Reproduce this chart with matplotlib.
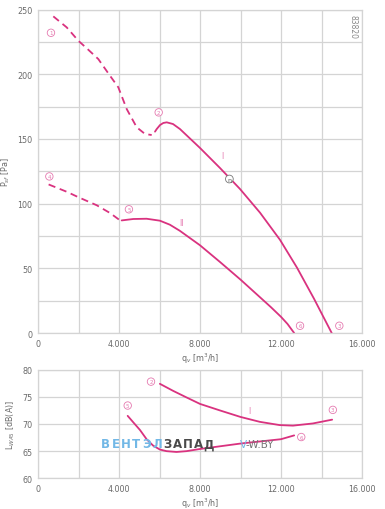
import numpy as np
import matplotlib
matplotlib.use('Agg')
import matplotlib.pyplot as plt

# --- data ---
# curve I, pressure
q_I_dash = [756, 1417, 1990, 2484, 2978, 3556, 3965, 4380, 4874, 5284, 5615]
p_I_dash = [244.7, 236.2, 225.9, 218.9, 211.7, 198.8, 189.9, 173.1, 159.0, 153.8, 153.0]
q_I = [5778, 5862, 6025, 6188, 6356, 6667, 7012, 8000, 8988, 9975, 10963, 11951, 12790, 13630, 14504]
p_I = [155.6, 157.6, 160.7, 162.3, 162.8, 161.5, 157.6, 143.0, 127.5, 111.3, 93.0, 72.0, 50.5, 26.5, 0]

# curve II, pressure
q_II_dash = [525, 1427, 2001, 2903, 3559, 4002]
p_II_dash = [114.8, 109.1, 104.9, 98.7, 92.7, 87.6]
q_II = [4133, 4707, 5363, 6019, 6511, 7003, 8000, 8986, 10005, 11007, 11500, 12000, 12321, 12650]
p_II = [87.0, 88.1, 88.3, 86.8, 83.7, 79.0, 67.8, 54.9, 41.2, 27.0, 20.0, 12.5, 7.0, 0]

# sound power
q_LI = [6019, 6675, 7331, 8000, 8984, 10000, 10951, 11934, 12590, 13574, 14525]
L_I = [77.4, 76.1, 74.9, 73.7, 72.5, 71.3, 70.4, 69.8, 69.7, 70.1, 70.8]
q_LII = [4428, 4707, 5035, 5363, 5691, 6019, 6347, 6839, 7331, 8000, 10000, 12000, 12650]
L_LII = [71.5, 70.3, 68.9, 67.2, 66.0, 65.3, 65.0, 64.85, 65.0, 65.4, 66.4, 67.2, 67.9]

# circled point markers
pts_top = [('1', 640, 232), ('2', 5960, 170.5), ('3', 14880, 5.6),
           ('4', 560, 121), ('5', 4490, 95.6), ('6', 12940, 5.6)]
pts_bot = [('2', 5580, 77.8), ('3', 14560, 72.6), ('5', 4430, 73.4), ('6', 13000, 67.6)]

xticks = [0, 4000, 8000, 12000, 16000]
xticklabels = ['0', '4.000', '8.000', '12.000', '16.000']

col = '#d9327f'
pink = '#e57ab0'
grid_c = '#d4d4d4'
txt_c = '#6a6a6a'

fig = plt.figure(figsize=(3.85, 5.10), dpi=100)
ax1 = fig.add_axes([38/385, 1-334/510, 324/385, 323.5/510])
ax2 = fig.add_axes([38/385, 1-479.3/510, 324/385, 108.6/510])


def style(ax):
    ax.set_xlim(0, 16000)
    ax.set_xticks(xticks)
    ax.set_xticklabels(xticklabels)
    ax.set_xticks(np.arange(0, 16001, 2000), minor=True)
    ax.grid(True, which='both', color=grid_c, lw=0.9)
    ax.tick_params(which='both', length=0, labelsize=5.8, colors=txt_c, pad=4)
    for s in ax.spines.values():
        s.set_color(grid_c)
        s.set_linewidth(0.9)
    ax.set_axisbelow(True)


style(ax1)
ax1.set_ylim(0, 250)
ax1.set_yticks([0, 50, 100, 150, 200, 250])
ax1.set_yticks(np.arange(0, 251, 25), minor=True)

style(ax2)
ax2.set_ylim(60, 80)
ax2.set_yticks([60, 65, 70, 75, 80])

dash = (0, (4, 2.6))
kw = dict(color=col, lw=1.3, solid_joinstyle='round', solid_capstyle='round')
ax1.plot(q_I_dash, p_I_dash, linestyle=dash, **kw)
ax1.plot(q_I, p_I, **kw)
ax1.plot(q_II_dash, p_II_dash, linestyle=dash, **kw)
ax1.plot(q_II, p_II, **kw)

ax2.plot(q_LI, L_I, **kw)
ax2.plot(q_LII, L_LII, **kw)


def circ(ax, t, x, y, ec=pink, c=pink, fs=4):
    ax.text(x, y, t, fontsize=fs, color=c, ha='center', va='center',
            bbox=dict(boxstyle='circle,pad=0.22', fc='white', ec=ec, lw=0.6))


for t, x, y in pts_top:
    circ(ax1, t, x, y)
for t, x, y in pts_bot:
    circ(ax2, t, x, y)
circ(ax1, 'η', 9450, 119, ec='#777777', c='#555555', fs=4.5)

ax1.text(9120, 137, 'I', fontsize=5.5, color=pink, ha='center', va='center')
ax1.text(7085, 85.3, 'II', fontsize=5.5, color=pink, ha='center', va='center')
ax2.text(10460, 72.4, 'I', fontsize=5.5, color=pink, ha='center', va='center')

ax1.set_xlabel('q$_v$ [m$^3$/h]', fontsize=5.8, color=txt_c, labelpad=2)
ax2.set_xlabel('q$_v$ [m$^3$/h]', fontsize=5.8, color=txt_c, labelpad=2)
ax1.set_ylabel('P$_{sf}$ [Pa]', fontsize=5.8, color=txt_c, labelpad=4)
ax2.set_ylabel('L$_{WA5}$ [dB(A)]', fontsize=5.8, color=txt_c, labelpad=4)

ax1.text(0.985, 0.985, '83820', transform=ax1.transAxes, rotation=-90,
         fontsize=5.5, color='#888888', ha='right', va='top')

# watermark
letters = 'ВЕНТЭЛЗАПАД'
for i, ch in enumerate(letters):
    c = '#72b8e6' if i < 6 else '#4a4a4a'
    fig.text((105 + i * 10.4) / 385, 1 - 445/510, ch, fontsize=8.5,
             fontweight='bold', color=c, ha='center', va='center')
fig.text(240/385, 1 - 445/510, 'V', fontsize=7.5, color='#72b8e6',
         ha='left', va='center')
fig.text(246/385, 1 - 445/510, '-W.BY', fontsize=7.5, color='#777777',
         ha='left', va='center')

fig.savefig('out.png', dpi=100)
